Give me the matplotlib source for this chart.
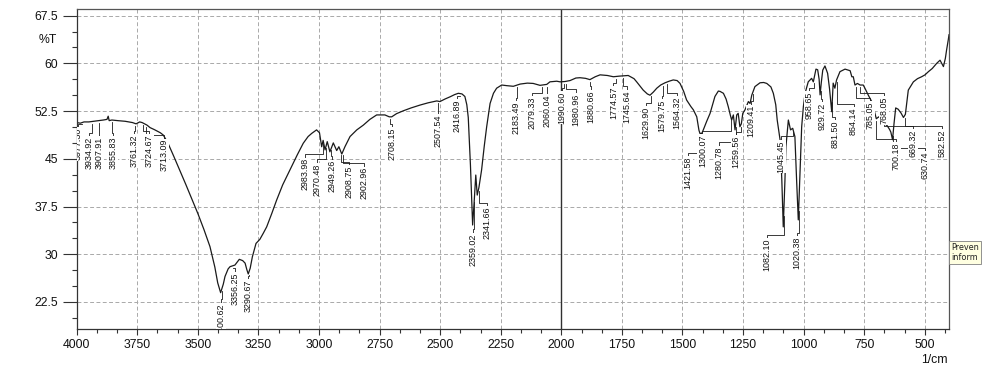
import numpy as np
import matplotlib
matplotlib.use("Agg")
import matplotlib.pyplot as plt
from matplotlib.ticker import MultipleLocator, FixedLocator

plt.rcParams['font.family'] = ['Liberation Sans', 'DejaVu Sans']

# ---------------- data ----------------
wavenumber = [
    4000, 3985, 3970, 3950, 3930, 3910, 3890, 3875, 3870, 3866, 3855, 3830, 3800, 3770,
    3755, 3740, 3730, 3710, 3697, 3680, 3670, 3655, 3643, 3625, 3600, 3550, 3500, 3475,
    3450, 3430, 3418, 3406, 3395, 3388, 3375, 3367, 3347, 3329, 3315, 3305, 3298, 3292,
    3284, 3275, 3260, 3244, 3230, 3216, 3195, 3175, 3150, 3120, 3090, 3065, 3045, 3030,
    3010, 2998, 2989, 2983, 2975, 2966, 2955, 2941, 2927, 2918, 2906, 2893, 2872, 2844,
    2817, 2790, 2762, 2728, 2710, 2700, 2680, 2652, 2620, 2583, 2550, 2514, 2501, 2480,
    2459, 2440, 2425, 2410, 2398, 2390, 2384, 2375, 2366, 2360, 2353, 2347, 2340, 2329,
    2318, 2308, 2294, 2280, 2267, 2246, 2225, 2198, 2170, 2140, 2116, 2088, 2060, 2047,
    2019, 2005, 1985, 1964, 1940, 1923, 1900, 1882, 1860, 1840, 1810, 1785, 1760, 1724,
    1700, 1689, 1662, 1645, 1634, 1620, 1606, 1590, 1572, 1555, 1538, 1522, 1510, 1495,
    1483, 1465, 1455, 1441, 1432, 1428, 1420, 1414, 1400, 1386, 1366, 1352, 1345, 1331,
    1320, 1311, 1302, 1297, 1290, 1283, 1276, 1270, 1263, 1257, 1251, 1242, 1228, 1221,
    1214, 1201, 1180, 1165, 1152, 1135, 1125, 1115, 1109, 1097, 1090, 1084, 1077, 1073,
    1063, 1054, 1045, 1036, 1029, 1022, 1015, 1008, 1001, 994, 981, 967, 960, 949,
    942, 936, 932, 927, 921, 912, 901, 893, 887, 884, 878, 871, 864, 850,
    829, 808, 801, 795, 788, 778, 767, 754, 747, 733, 719, 708, 700, 690,
    680, 669, 655, 645, 640, 633, 627, 620, 610, 598, 588, 580, 568, 547,
    530, 513, 499, 485, 469, 451, 437, 430, 423, 415, 410, 403, 400,
]
transmittance = [
    50.7, 50.6, 50.8, 50.8, 50.9, 51.0, 51.1, 51.2, 51.7, 51.0, 51.1, 51.0, 50.9, 50.7,
    50.5, 50.8, 50.7, 50.3, 49.9, 49.6, 49.4, 49.1, 48.75, 47.6, 45.45, 41.0, 36.4, 33.9,
    31.2, 28.0, 25.5, 23.96, 25.3, 26.5, 27.7, 28.05, 28.3, 29.2, 29.0, 28.6, 27.6, 26.9,
    27.8, 29.6, 31.7, 32.35, 33.3, 34.3, 36.4, 38.5, 40.9, 43.25, 45.6, 47.45, 48.5, 49.0,
    49.55, 49.1, 46.9, 47.9, 46.4, 47.7, 46.1, 47.5, 46.3, 46.9, 45.75, 46.9, 48.5, 49.55,
    50.3, 51.2, 51.9, 51.9, 51.6, 51.6, 52.1, 52.55, 53.0, 53.45, 53.8, 54.1, 54.0, 54.4,
    54.75, 55.1, 55.3, 55.2, 54.8, 53.5, 51.5, 44.0, 34.6, 38.0, 42.45, 39.3, 40.5, 43.25,
    47.0, 50.05, 53.7, 55.3, 56.1, 56.6, 56.5, 56.4, 56.75, 56.9, 56.85, 56.55, 56.7, 57.1,
    57.2, 57.1, 57.15, 57.3, 57.7, 57.75, 57.65, 57.45, 57.9, 58.2, 58.1, 57.9, 58.0, 58.1,
    57.6, 57.1, 55.8, 55.2, 55.0, 55.5, 56.1, 56.6, 56.95, 57.2, 57.4, 57.3, 56.85, 55.6,
    54.25, 53.2, 52.7, 51.6, 49.5, 49.0, 49.0, 49.55, 50.9, 52.15, 54.8, 55.65, 55.6, 55.3,
    54.4, 53.2, 51.8, 51.1, 51.9, 49.55, 51.9, 52.15, 50.05, 50.5, 52.15, 52.7, 54.0, 53.7,
    55.0, 56.35, 56.95, 57.0, 56.85, 56.3, 55.3, 53.5, 51.1, 47.95, 41.7, 34.3, 41.7, 46.9,
    51.1, 49.55, 49.8, 48.5, 41.7, 35.4, 42.7, 50.05, 53.2, 55.3, 57.1, 57.65, 57.1, 59.1,
    59.0, 57.5, 55.05, 57.0, 58.95, 59.6, 58.45, 56.0, 53.5, 52.4, 56.9, 56.1, 57.4, 58.7,
    59.1, 58.85, 57.9, 57.9, 56.6, 56.85, 56.6, 56.6, 56.1, 55.0, 54.0, 52.5, 51.3, 51.6,
    51.2, 50.6, 50.2, 49.6, 49.2, 48.0, 50.5, 53.0, 52.8, 52.2, 51.5, 52.0, 55.8, 57.1,
    57.6, 57.9, 58.2, 58.7, 59.2, 60.0, 60.5, 60.0, 59.5, 60.8, 62.1, 63.7, 64.5,
]

peak_labels = [
    "3977.30", "3934.92", "3907.91", "3855.83", "3761.32", "3724.67", "3713.09",
    "3400.62", "3356.25", "3290.67", "2983.98", "2970.48", "2949.26", "2908.75",
    "2902.96", "2708.15", "2507.54", "2416.89", "2359.02", "2341.66", "2183.49",
    "2079.33", "2060.04", "1990.60", "1980.96", "1880.66", "1774.57", "1745.64",
    "1629.90", "1579.75", "1564.32", "1421.58", "1300.07", "1280.78", "1259.56",
    "1209.41", "1045.45", "1082.10", "1020.38", "958.65", "929.72", "881.50",
    "864.14", "785.05", "768.05", "700.18", "669.32", "630.74", "582.52",
]

x_ticks = [4000, 3750, 3500, 3250, 3000, 2750, 2500, 2250, 2000, 1750, 1500, 1250, 1000, 750, 500]
y_ticks = [22.5, 30, 37.5, 45, 52.5, 60, 67.5]
y_tick_labels = ["22.5", "30", "37.5", "45", "52.5", "60", "67.5"]

# label layout: (label centre wavenumber, label top %T)
label_layout = [
    (3993, 49.85), (3949, 48.43), (3908, 48.43), (3850, 48.43), (3763, 48.75), (3701, 48.75),
    (3640, 48.1), (3406, 22.3), (3347, 27.2), (3292, 25.95), (3058, 45.1), (3009, 44.3),
    (2948, 44.8), (2875, 43.9), (2813, 43.7), (2699, 49.85), (2508, 51.9), (2432, 54.25),
    (2366, 33.3), (2305, 37.5), (2188, 54.0), (2120, 54.8), (2060, 55.05), (1998, 55.55),
    (1939, 55.3), (1877, 55.8), (1785, 56.3), (1728, 55.8), (1652, 53.2), (1586, 54.25),
    (1524, 54.8), (1478, 45.35), (1418, 48.75), (1349, 47.0), (1279, 48.6), (1217, 53.45),
    (1093, 47.95), (1152, 32.5), (1029, 32.75), (976, 55.5), (925, 53.8), (870, 50.95),
    (794, 53.0), (726, 54.0), (667, 54.8), (619, 47.55), (547, 49.55), (499, 46.1),
    (430, 49.55),
]

# ---------------- figure ----------------
W, H = 984, 372
fig = plt.figure(figsize=(W / 100, H / 100), dpi=100)
ax = fig.add_axes([76.7 / W, 1 - 329 / H, (949 - 76.7) / W, (329 - 9) / H])
ax.set_xlim(4000, 400)
ax.set_ylim(18.25, 68.55)

ax.set_axisbelow(True)
ax.grid(True, which='major', linestyle=(0, (4, 2.5)), color='#a9a9a9', linewidth=0.7)

# cursor line
ax.axvline(2000, color='#303030', linewidth=1.0, zorder=1.5)

wn = np.array(wavenumber, dtype=float)
tr = np.array(transmittance, dtype=float)
ax.plot(wn, tr, color='#1a1a1a', linewidth=0.9, zorder=2)

# peak labels with leader lines
for lab, (lx, ltop) in zip(peak_labels, label_layout):
    pk = float(lab)
    cy = np.interp(pk, wn[::-1], tr[::-1])
    jog = ltop + 0.6
    start = max(cy - 0.35, jog)
    ax.plot([pk, pk, lx, lx], [start, jog, jog, ltop], color='#1a1a1a',
            linewidth=0.6, zorder=3, clip_on=True)
    ax.text(lx, ltop, lab, rotation=90, ha='center', va='top', fontsize=6.4,
            color='#111111', zorder=4, clip_on=True,
            bbox=dict(facecolor='white', edgecolor='none', pad=0.4))

# ticks
ax.xaxis.set_major_locator(FixedLocator(x_ticks))
ax.set_xticklabels([str(t) for t in x_ticks])
ax.xaxis.set_minor_locator(MultipleLocator(250 / 3))
ax.yaxis.set_major_locator(FixedLocator(y_ticks))
ax.set_yticklabels(y_tick_labels)
ax.yaxis.set_minor_locator(MultipleLocator(2.5))

ax.tick_params(axis='both', which='both', direction='out', colors='#333333',
               labelcolor='#111111', labelsize=8.8)
ax.tick_params(axis='y', which='major', length=10, width=0.8, pad=3.5)
ax.tick_params(axis='y', which='minor', length=3.6, width=0.8)
ax.tick_params(axis='x', which='major', length=4, width=0.8, pad=3)
ax.tick_params(axis='x', which='minor', length=3.2, width=0.8)

for s in ax.spines.values():
    s.set_color('#555555')
    s.set_linewidth(0.9)
ax.spines['left'].set_color('#333333')
ax.spines['bottom'].set_color('#333333')

fig.text(57 / W, 1 - 40 / H, "%T", ha='right', va='center', fontsize=8.8, color='#111111')
fig.text(948 / W, 1 - 360 / H, "1/cm", ha='right', va='center', fontsize=8.8, color='#111111')

# tooltip fragment at right edge (cut by the window edge in the reference)
fig.text(951 / W, 1 - 252.5 / H, "Preven\ninform", ha='left', va='center',
         fontsize=5.9, family='DejaVu Sans', color='#222222', linespacing=1.05,
         bbox=dict(facecolor='#ffffe1', edgecolor='#808080', linewidth=0.6,
                   boxstyle='square,pad=0.3'))

fig.savefig("out.png", dpi=100)
